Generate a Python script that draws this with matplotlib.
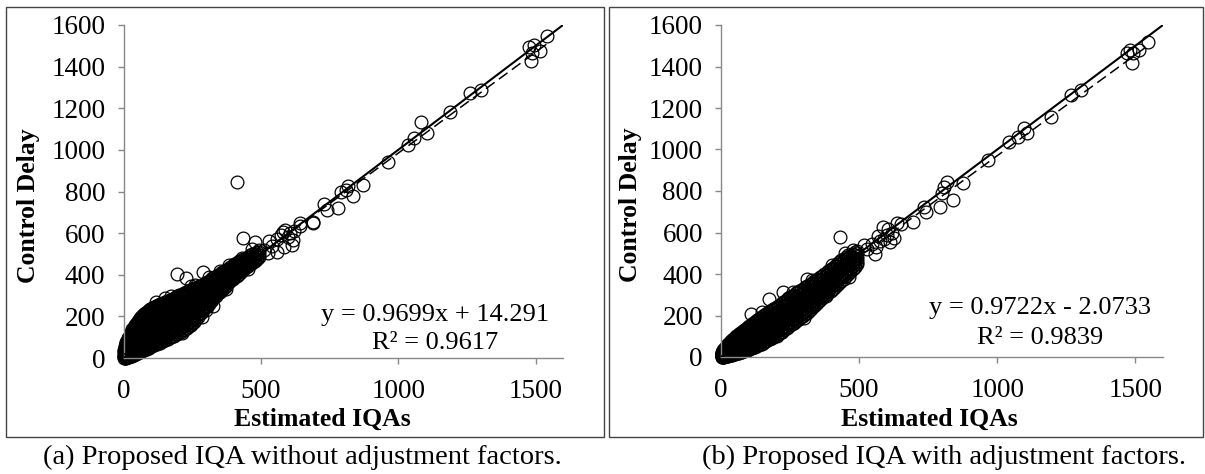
import matplotlib
matplotlib.use("Agg")
import matplotlib.pyplot as plt
from matplotlib.patches import Rectangle

plt.rcParams['font.family'] = ['Liberation Serif', 'DejaVu Serif']

W, H = 1205, 474

# ---------------- data: panel (a), IQA without adjustment factors ----------------
# dense part of the cloud: estimated IQA -> observed control delays
band_a = {
    2: [0, 5, 10, 16, 24, 32, 40],
    4: [2, 8, 14, 21, 30, 40, 50],
    6: [1, 6, 12, 19, 27, 36, 46, 56],
    8: [4, 10, 17, 26, 36, 47, 59, 70],
    10: [2, 8, 15, 24, 33, 43, 55, 66, 76],
    12: [5, 12, 20, 29, 39, 50, 62, 74, 84],
    15: [4, 11, 20, 30, 41, 53, 66, 78, 90],
    17: [8, 16, 26, 37, 49, 61, 73, 86, 96],
    20: [6, 15, 25, 37, 50, 63, 76, 90, 102],
    23: [12, 21, 32, 45, 58, 72, 86, 100, 110],
    26: [9, 19, 31, 44, 58, 72, 86, 100, 114, 122],
    29: [15, 26, 38, 52, 67, 82, 97, 112, 126],
    32: [12, 23, 37, 51, 66, 81, 96, 111, 126, 138],
    35: [19, 31, 45, 60, 75, 91, 107, 123, 140],
    38: [16, 28, 43, 58, 74, 90, 106, 121, 136, 150],
    41: [23, 36, 51, 67, 83, 100, 116, 132, 148, 157],
    45: [20, 33, 49, 66, 83, 100, 116, 133, 150, 164],
    48: [27, 41, 58, 75, 93, 110, 127, 144, 160, 170],
    52: [24, 38, 55, 73, 91, 109, 127, 145, 162, 176],
    56: [31, 47, 64, 82, 101, 119, 138, 157, 175, 184],
    60: [28, 44, 62, 80, 99, 118, 137, 156, 174, 190],
    64: [36, 53, 71, 90, 109, 129, 148, 168, 186, 196],
    68: [33, 50, 68, 87, 107, 127, 147, 166, 185, 202],
    72: [41, 58, 77, 97, 117, 137, 158, 178, 197, 207],
    76: [38, 55, 74, 94, 114, 135, 156, 176, 196, 212],
    80: [46, 64, 84, 104, 125, 146, 167, 188, 208, 217],
    85: [44, 61, 80, 101, 122, 144, 165, 186, 206, 222],
    89: [52, 70, 90, 112, 134, 156, 178, 200, 218, 226],
    94: [50, 67, 87, 108, 130, 152, 174, 195, 215, 230],
    98: [58, 76, 97, 119, 141, 164, 186, 208, 226, 234],
    103: [56, 73, 93, 115, 137, 160, 182, 204, 224, 238],
    107: [64, 82, 103, 126, 149, 171, 194, 216, 234, 242],
    112: [62, 79, 99, 121, 144, 167, 190, 212, 232, 245],
    117: [70, 88, 110, 132, 155, 178, 201, 224, 242, 248],
    122: [68, 86, 106, 128, 151, 174, 197, 220, 240, 252],
    127: [76, 95, 116, 139, 162, 185, 208, 231, 248, 255],
    132: [74, 92, 112, 134, 157, 180, 203, 226, 246, 258],
    137: [82, 101, 122, 145, 168, 191, 214, 237, 254, 260],
    142: [80, 98, 118, 141, 164, 187, 210, 233, 252, 263],
    147: [88, 107, 129, 152, 175, 198, 221, 244, 260, 266],
    152: [86, 104, 125, 148, 171, 194, 217, 240, 258, 268],
    157: [94, 113, 135, 158, 181, 204, 227, 250, 266, 272],
    163: [93, 111, 132, 155, 178, 201, 224, 247, 264, 274],
    168: [101, 120, 142, 165, 188, 211, 234, 257, 272, 278],
    174: [100, 118, 139, 162, 185, 208, 231, 254, 270, 280],
    179: [108, 127, 149, 172, 195, 218, 241, 264, 280, 285],
    185: [108, 126, 147, 170, 193, 216, 239, 262, 278, 288],
    190: [116, 135, 157, 180, 203, 226, 249, 272, 288, 293],
    196: [116, 134, 155, 178, 201, 224, 247, 270, 286, 296],
    202: [124, 143, 165, 188, 211, 234, 257, 280, 296, 301],
    208: [124, 142, 163, 186, 209, 232, 255, 278, 296, 304],
    214: [133, 152, 174, 196, 219, 242, 265, 288, 304, 309],
    220: [134, 152, 173, 195, 218, 241, 264, 287, 304, 312],
    226: [144, 162, 183, 205, 227, 250, 272, 295, 310, 316],
    232: [146, 163, 183, 205, 227, 249, 271, 294, 310, 318],
    238: [156, 173, 193, 214, 236, 258, 280, 302, 317, 323],
    244: [158, 175, 195, 216, 237, 258, 280, 302, 318, 326],
    250: [170, 186, 205, 225, 246, 267, 288, 309, 324, 330],
    257: [174, 190, 209, 229, 249, 269, 290, 311, 326, 334],
    263: [188, 203, 220, 239, 258, 277, 297, 317, 332, 338],
    270: [196, 211, 228, 246, 265, 284, 303, 322, 340],
    276: [210, 224, 240, 257, 274, 291, 309, 327, 344],
    283: [218, 232, 248, 264, 281, 298, 315, 332, 348],
    289: [230, 244, 259, 274, 290, 306, 322, 338, 352],
    296: [238, 252, 267, 282, 298, 314, 330, 345, 358],
    303: [252, 265, 279, 293, 308, 323, 338, 352, 364],
    310: [260, 273, 287, 301, 316, 331, 346, 360, 370],
    317: [272, 284, 297, 311, 325, 339, 353, 366, 376],
    324: [280, 293, 306, 320, 334, 348, 362, 375, 382],
    331: [292, 303, 316, 329, 342, 355, 368, 381, 387],
    338: [300, 312, 325, 338, 351, 364, 377, 390],
    345: [310, 321, 333, 346, 359, 372, 385, 397],
    352: [318, 330, 342, 355, 368, 381, 394, 404],
    359: [328, 339, 351, 363, 375, 388, 401, 411],
    367: [338, 349, 361, 373, 385, 397, 409, 418],
    374: [348, 359, 370, 382, 394, 406, 418, 424],
    382: [358, 369, 380, 392, 404, 416, 428],
    389: [368, 379, 390, 401, 412, 424, 435],
    397: [378, 389, 400, 411, 422, 433, 442],
    404: [388, 398, 409, 420, 431, 441, 450],
    412: [396, 407, 418, 429, 440, 450, 458],
    420: [406, 416, 427, 438, 449, 458, 464],
    428: [415, 426, 437, 448, 459, 468],
    436: [424, 434, 445, 456, 467, 474],
    444: [434, 445, 456, 467, 478],
    452: [442, 452, 463, 474, 486],
    460: [450, 461, 472, 483, 494],
    468: [458, 469, 480, 491, 498],
    477: [466, 477, 488, 500],
    485: [476, 487, 498, 510],
    494: [484, 496, 508, 518],
}
# isolated observations around the dense cloud
est_a = [412, 434, 479, 194, 228, 290, 327, 285, 642, 588, 558, 612, 605, 581,
         616, 584, 526, 644, 690, 510, 540, 560, 575, 600, 620, 530, 963, 873,
         837, 818, 811, 790, 782, 740, 730, 691, 1034, 1058, 1083, 1104, 1187,
         1261, 1303, 1477, 1494, 1487, 1515, 1484, 1543,
         118, 150, 172, 246, 262, 312, 352, 384, 432, 468, 214, 302, 372, 452]
delay_a = [848, 575, 559, 402, 383, 415, 250, 199, 649, 615, 511, 543, 599, 607,
           567, 535, 503, 635, 651, 520, 540, 570, 590, 580, 610, 560, 944, 832,
           776, 827, 808, 800, 720, 712, 740, 655, 1024, 1056, 1136, 1080, 1184,
           1272, 1288, 1492, 1505, 1465, 1473, 1428, 1548,
           268, 290, 298, 346, 352, 388, 420, 446, 482, 522, 120, 232, 330, 426]
slope_a, intercept_a, r2_a = 0.9699, 14.291, 0.9617

# ---------------- data: panel (b), IQA with adjustment factors ----------------
band_b = {
    2: [0, 4, 8, 13, 18],
    4: [1, 5, 10, 15, 21, 26],
    6: [1, 6, 11, 17, 24, 30],
    8: [2, 7, 13, 19, 26, 33],
    10: [2, 8, 14, 21, 29, 36],
    12: [3, 9, 16, 24, 32, 40],
    15: [3, 10, 18, 27, 36, 45],
    17: [4, 12, 20, 29, 39, 48],
    20: [5, 13, 22, 32, 42, 52],
    23: [6, 14, 24, 35, 46, 56],
    26: [7, 16, 27, 38, 50, 61],
    29: [8, 17, 29, 41, 53, 65],
    32: [9, 19, 31, 44, 57, 70],
    35: [10, 20, 33, 46, 60, 74],
    38: [11, 22, 35, 49, 63, 78],
    41: [12, 23, 37, 51, 66, 82],
    45: [13, 25, 39, 54, 70, 86],
    48: [14, 26, 41, 56, 73, 89],
    52: [16, 28, 43, 59, 76, 93],
    56: [17, 30, 45, 60, 77, 94, 100],
    60: [19, 32, 47, 62, 78, 94, 104],
    64: [20, 34, 50, 65, 82, 98, 109],
    68: [22, 36, 52, 68, 85, 102, 114],
    72: [24, 38, 54, 70, 88, 105, 118],
    76: [26, 40, 56, 73, 91, 109, 122],
    80: [28, 42, 59, 76, 94, 113, 127],
    85: [30, 45, 62, 80, 98, 117, 132],
    89: [32, 47, 64, 83, 102, 121, 137],
    94: [34, 50, 67, 86, 105, 125, 142],
    98: [36, 52, 70, 89, 108, 128, 146],
    103: [39, 55, 73, 92, 112, 132, 150],
    107: [41, 57, 75, 95, 115, 136, 154],
    112: [44, 60, 78, 98, 119, 140, 158],
    117: [47, 63, 81, 101, 122, 144, 162],
    122: [50, 66, 85, 105, 126, 148, 167],
    127: [53, 69, 88, 108, 130, 152, 172],
    132: [56, 72, 91, 112, 134, 157, 178],
    137: [59, 75, 94, 116, 138, 161, 183],
    142: [62, 79, 98, 120, 142, 165, 188],
    147: [65, 82, 102, 124, 146, 170, 193],
    152: [69, 86, 106, 128, 151, 174, 198],
    157: [73, 90, 110, 132, 155, 179, 202],
    163: [77, 94, 114, 136, 160, 184, 207],
    168: [81, 98, 118, 140, 164, 188, 211],
    174: [85, 102, 122, 145, 169, 193, 216],
    179: [89, 106, 126, 149, 173, 197, 221],
    185: [93, 110, 131, 154, 178, 202, 226],
    190: [97, 114, 135, 158, 182, 207, 231],
    196: [102, 119, 140, 163, 187, 212, 236],
    202: [107, 124, 145, 168, 192, 217, 242],
    208: [112, 129, 150, 173, 197, 222, 248],
    214: [117, 134, 155, 178, 202, 227, 253],
    220: [122, 139, 160, 184, 208, 233, 258],
    226: [128, 145, 166, 190, 214, 239, 264],
    232: [134, 151, 172, 196, 220, 245, 270],
    238: [140, 157, 178, 202, 226, 251, 276],
    244: [146, 163, 184, 208, 232, 257, 282],
    250: [152, 169, 190, 214, 239, 264, 288],
    257: [158, 176, 197, 221, 246, 271, 294],
    263: [165, 183, 204, 228, 253, 278, 301],
    270: [172, 190, 211, 235, 260, 285, 308],
    276: [178, 196, 217, 241, 266, 291, 313],
    283: [184, 202, 224, 248, 273, 298, 318],
    289: [191, 209, 231, 255, 280, 304, 324],
    296: [198, 216, 238, 262, 286, 310, 330],
    303: [206, 224, 245, 269, 293, 317, 336],
    310: [214, 232, 253, 276, 300, 323, 342],
    317: [222, 239, 260, 283, 306, 329, 347],
    324: [230, 247, 268, 290, 313, 335, 352],
    331: [239, 255, 276, 297, 320, 341, 358],
    338: [248, 264, 284, 305, 327, 348, 364],
    345: [257, 273, 292, 313, 334, 355, 371],
    352: [266, 282, 301, 321, 342, 362, 378],
    359: [275, 291, 310, 330, 350, 370, 385],
    367: [284, 300, 319, 339, 359, 378, 392],
    374: [294, 309, 328, 347, 367, 385, 399],
    382: [304, 319, 337, 356, 375, 393, 406],
    389: [312, 327, 345, 364, 383, 401, 414],
    397: [320, 336, 354, 373, 392, 410, 422],
    404: [329, 345, 363, 382, 401, 419, 430],
    412: [338, 354, 372, 391, 410, 428, 438],
    420: [348, 364, 382, 400, 419, 437, 448],
    428: [358, 374, 392, 410, 428, 446, 458],
    436: [368, 384, 401, 419, 436, 454, 466],
    444: [378, 394, 411, 428, 445, 462, 474],
    452: [388, 404, 420, 437, 454, 470, 482],
    460: [398, 414, 430, 446, 462, 478, 490],
    468: [410, 425, 441, 457, 472, 486],
    477: [422, 437, 452, 467, 482, 494],
    485: [434, 448, 463, 478, 492, 504],
    494: [446, 460, 474, 488, 502, 512],
}
est_b = [431, 109, 175, 223, 310, 334, 558, 612, 637, 588, 479, 516, 530, 545,
         560, 575, 590, 600, 620, 605, 570, 625, 652, 694, 743, 736, 792, 799,
         817, 808, 841, 876, 966, 1043, 1074, 1096, 1106, 1194, 1267, 1302,
         1470, 1479, 1491, 1512, 1488, 1546,
         150, 262, 328, 402, 448, 204, 302, 380, 462]
delay_b = [577, 206, 278, 315, 374, 251, 496, 556, 644, 628, 516, 540, 520, 545,
           530, 560, 570, 590, 600, 615, 585, 575, 641, 652, 700, 724, 724, 789,
           845, 820, 757, 837, 949, 1038, 1062, 1102, 1078, 1158, 1263, 1287,
           1464, 1480, 1464, 1480, 1415, 1520,
           216, 312, 372, 444, 502, 100, 190, 292, 386]
slope_b, intercept_b, r2_b = 0.9722, -2.0733, 0.9839

x_ticks = [0, 500, 1000, 1500]
y_ticks = [0, 200, 400, 600, 800, 1000, 1200, 1400, 1600]
x_label = "Estimated IQAs"
y_label = "Control Delay"
captions = ["(a) Proposed IQA without adjustment factors.",
            "(b) Proposed IQA with adjustment factors."]

FS_TICK = 19.5
FS_LABEL = 18.5
FS_EQ = 19
FS_CAP = 20.5
AXIS_GREY = "#888888"


def fx(px):
    return px / W


def fy(py):
    return 1 - py / H


def flatten(band, xs, ys):
    bx, by = [], []
    for x, yl in band.items():
        for y in yl:
            bx.append(x)
            by.append(y)
    return bx + list(xs), by + list(ys)


def panel(ax, band, xs, ys, slope, intercept):
    px, py = flatten(band, xs, ys)
    ax.plot(px, py, linestyle="none", marker="o", ms=9.2, mfc="none",
            mec="black", mew=0.9, clip_on=False, zorder=2)
    # 1:1 reference line
    ax.plot([0, 1600], [0, 1600], color="black", lw=1.5, zorder=3,
            solid_capstyle="butt")
    # fitted trend line
    x0, x1 = min(px), max(px)
    ax.plot([x0, x1], [slope * x0 + intercept, slope * x1 + intercept],
            color="black", lw=1.1, dashes=(7, 3.5), zorder=3)
    ax.set_xlim(0, 1600)
    ax.set_ylim(0, 1600)
    ax.set_xticks(x_ticks)
    ax.set_yticks(y_ticks)
    for s in ("top", "right"):
        ax.spines[s].set_visible(False)
    for s in ("left", "bottom"):
        ax.spines[s].set_color(AXIS_GREY)
        ax.spines[s].set_linewidth(1.0)
    ax.tick_params(direction="out", length=4, width=1.0, color=AXIS_GREY,
                   labelsize=FS_TICK, labelcolor="black")
    ax.tick_params(axis="y", pad=9)
    ax.tick_params(axis="x", pad=11)
    ax.patch.set_visible(False)


fig = plt.figure(figsize=(W / 100, H / 100), dpi=100)
fig.patch.set_facecolor("white")

ax_a = fig.add_axes([fx(123.5), fy(358), fx(563) - fx(123.5), fy(25) - fy(358)])
ax_b = fig.add_axes([fx(721), fy(357), fx(1163) - fx(721), fy(25) - fy(357)])

panel(ax_a, band_a, est_a, delay_a, slope_a, intercept_a)
panel(ax_b, band_b, est_b, delay_b, slope_b, intercept_b)

# frames around each sub-figure
for x0, x1 in ((6, 604), (609, 1203)):
    fig.add_artist(Rectangle((fx(x0), fy(437)), fx(x1) - fx(x0), fy(7) - fy(437),
                             transform=fig.transFigure, fill=False,
                             edgecolor="#444444", lw=1.0))

# axis titles
for cx, cy in ((29, 206), (630, 205)):
    fig.text(fx(cx), fy(cy), y_label, rotation=90, ha="center", va="center",
             fontsize=FS_LABEL, fontweight="bold")
for cx in (322, 929):
    fig.text(fx(cx), fy(419), x_label, ha="center", va="center",
             fontsize=FS_LABEL, fontweight="bold")


def eq_text(slope, intercept):
    sign = "+" if intercept >= 0 else "-"
    return f"y = {slope:.4f}x {sign} {abs(intercept):g}"


# regression annotations
for cx, y1, y2, s, b, r2 in ((435, 315, 343, slope_a, intercept_a, r2_a),
                             (1040, 308, 338, slope_b, intercept_b, r2_b)):
    fig.text(fx(cx), fy(y1), eq_text(s, b), ha="center", va="center", fontsize=FS_EQ)
    fig.text(fx(cx), fy(y2), f"R\u00b2 = {r2:.4f}", ha="center", va="center",
             fontsize=FS_EQ)

# sub-figure captions
for cx, cap in zip((302, 944), captions):
    fig.text(fx(cx), fy(457), cap, ha="center", va="center", fontsize=FS_CAP)

fig.savefig("out.png", dpi=100, facecolor="white")
